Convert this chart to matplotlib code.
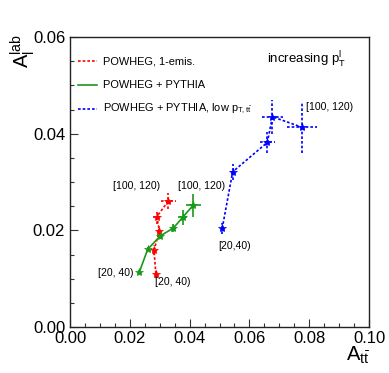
import matplotlib
matplotlib.use("Agg")
import matplotlib.pyplot as plt
from matplotlib.ticker import MultipleLocator, FormatStrFormatter

plt.rcParams["font.family"] = ["Liberation Sans", "DejaVu Sans"]
plt.rcParams["mathtext.fontset"] = "custom"
plt.rcParams["mathtext.rm"] = "Liberation Sans"
plt.rcParams["mathtext.it"] = "Liberation Sans"

# POWHEG, 1 emission (red)
red_x = [0.0287, 0.0281, 0.0299, 0.0290, 0.0329]
red_y = [0.0110, 0.0159, 0.0199, 0.0228, 0.0261]
red_xerr = [0.0003, 0.0004, 0.0008, 0.0011, 0.0024]
red_yerr = [0.0008, 0.0010, 0.0010, 0.0014, 0.0017]

# POWHEG + PYTHIA (green)
grn_x = [0.0232, 0.0260, 0.0301, 0.0346, 0.0377, 0.0412]
grn_y = [0.0114, 0.0161, 0.0188, 0.0205, 0.0227, 0.0252]
grn_xerr = [0.0004, 0.0004, 0.0006, 0.0009, 0.0015, 0.0025]
grn_yerr = [0.0003, 0.0004, 0.0006, 0.0009, 0.0016, 0.0024]

# POWHEG + PYTHIA, low pT(ttbar) (blue)
blu_x = [0.0509, 0.0544, 0.0660, 0.0677, 0.0777]
blu_y = [0.0204, 0.0321, 0.0382, 0.0435, 0.0413]
blu_xerr = [0.0005, 0.0005, 0.0025, 0.0036, 0.0050]
blu_yerr = [0.0012, 0.0017, 0.0022, 0.0035, 0.0052]

RED = "#ff0000"
GREEN = "#1a991a"
BLUE = "#0000ff"
DOTTED = (0, (1.6, 1.2))

fig = plt.figure(figsize=(3.89, 3.73), dpi=100)
ax = fig.add_axes([0.180, 0.1233, 0.7686, 0.7775])


def serie(x, y, xerr, yerr, color, ls):
    eb = ax.errorbar(x, y, xerr=xerr, yerr=yerr, color=color, ls=ls, lw=1.2,
                     marker="*", ms=6, mew=0.5, elinewidth=1.2, capsize=0)
    for col in eb[2]:
        col.set_linestyle(ls)


serie(red_x, red_y, red_xerr, red_yerr, RED, DOTTED)
serie(grn_x, grn_y, grn_xerr, grn_yerr, GREEN, "-")
serie(blu_x, blu_y, blu_xerr, blu_yerr, BLUE, DOTTED)

ax.set_xlim(0, 0.10)
ax.set_ylim(0, 0.06)
ax.xaxis.set_major_locator(MultipleLocator(0.02))
ax.xaxis.set_minor_locator(MultipleLocator(0.005))
ax.yaxis.set_major_locator(MultipleLocator(0.02))
ax.yaxis.set_minor_locator(MultipleLocator(0.005))
ax.tick_params(which="both", direction="in", top=False, right=False,
               labelsize=12, width=0.8, colors="#333333", labelcolor="black")
ax.tick_params(which="major", length=6)
ax.tick_params(which="minor", length=3)
ax.xaxis.set_major_formatter(FormatStrFormatter("%.2f"))
ax.yaxis.set_major_formatter(FormatStrFormatter("%.2f"))
ax.tick_params(axis="x", pad=3)
for s in ax.spines.values():
    s.set_linewidth(1.0)
    s.set_color("#222222")

# legend, drawn by hand
leg = [("POWHEG, 1-emis.", RED, DOTTED),
       ("POWHEG + PYTHIA", GREEN, "-"),
       (r"POWHEG + PYTHIA, low p$_{\mathrm{T,t\bar{t}}}$", BLUE, DOTTED)]
for i, (txt, c, ls) in enumerate(leg):
    yy = 0.917 - i * 0.0828
    ax.plot([0.027, 0.090], [yy, yy], color=c, ls=ls, lw=1.2, transform=ax.transAxes)
    ax.text(0.110, yy, txt, fontsize=7.9, va="center", ha="left", transform=ax.transAxes)

ax.text(0.660, 0.92, r"increasing p$_{\mathrm{T}}^{\mathrm{l}}$", fontsize=9.5,
        va="center", ha="left", transform=ax.transAxes)

# bin labels
ax.text(0.0143, 0.0285, "[100, 120)", fontsize=7.6)
ax.text(0.0362, 0.0285, "[100, 120)", fontsize=7.6)
ax.text(0.0094, 0.0105, "[20, 40)", fontsize=7.6)
ax.text(0.0285, 0.0086, "[20, 40)", fontsize=7.6)
ax.text(0.0497, 0.0161, "[20,40)", fontsize=7.6)
ax.text(0.0788, 0.0448, "[100, 120)", fontsize=7.6)

fig.text(0.058, 0.908, r"A$_{\mathrm{l}}^{\mathrm{lab}}$", fontsize=14.5, rotation=90,
         ha="center", va="top")
fig.text(0.952, 0.020, r"A$_{\mathrm{t\bar{t}}}$", fontsize=14.5, ha="right", va="bottom")

fig.savefig("out.png", dpi=100)
